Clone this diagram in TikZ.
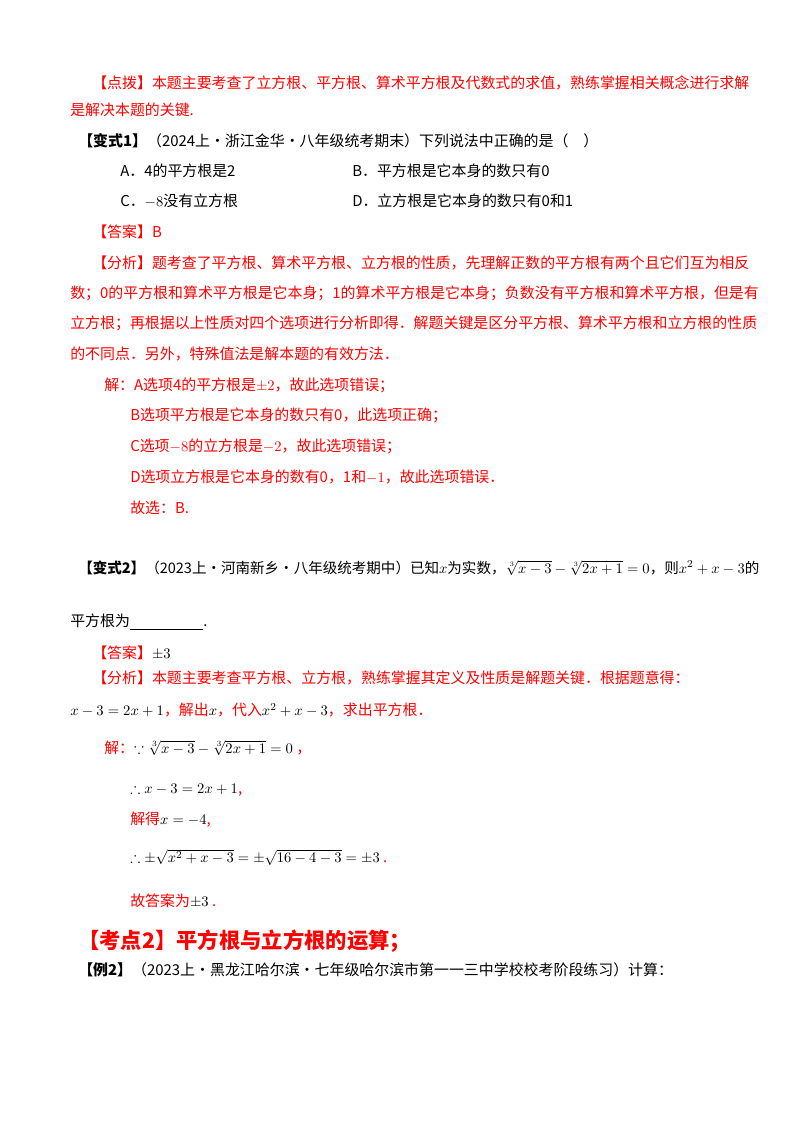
\documentclass[tikz,border=0pt]{standalone}
\usepackage{amsmath,amssymb}
\usepackage{fontspec}
\setmainfont{Noto Sans CJK SC}
\definecolor{rd}{RGB}{255,0,0}
\begin{document}
\begin{tikzpicture}[x=0.75pt,y=-0.75pt,
  t/.style={anchor=west,inner sep=0pt,font=\fontsize{11.2}{13}\selectfont},
  r/.style={t,text=rd}]
\useasboundingbox (0,0) rectangle (800,1132);
\node[r] (l1) at (92,83) {【点拨】本题主要考查了立方根、平方根、算术平方根及代数式的求值，熟练掌握相关概念进行求解};
\node[r] (l2) at (70,110) {是解决本题的关键.};
\node[t] (l3) at (78,141) {\textbf{【变式1】}（2024上·浙江金华·八年级统考期末）下列说法中正确的是（\quad）};
\node[t] (a) at (120,171) {A．4的平方根是2};
\node[t] (b) at (352,171) {B．平方根是它本身的数只有0};
\node[t] (c) at (120,201) {C．$-8$没有立方根};
\node[t] (d) at (352,201) {D．立方根是它本身的数只有0和1};
\node[r] (l4) at (92,232) {【答案】B};
\node[r] (l5) at (92,263) {【分析】题考查了平方根、算术平方根、立方根的性质，先理解正数的平方根有两个且它们互为相反};
\node[r] (l6) at (70,293) {数；0的平方根和算术平方根是它本身；1的算术平方根是它本身；负数没有平方根和算术平方根，但是有};
\node[r] (l7) at (70,323) {立方根；再根据以上性质对四个选项进行分析即得．解题关键是区分平方根、算术平方根和立方根的性质};
\node[r] (l8) at (70,354) {的不同点．另外，特殊值法是解本题的有效方法．};
\node[r] (l9) at (104,385) {解：A选项4的平方根是$\pm2$，故此选项错误；};
\node[r] (l10) at (130,415) {B选项平方根是它本身的数只有0，此选项正确；};
\node[r] (l11) at (130,446) {C选项$-8$的立方根是$-2$，故此选项错误；};
\node[r] (l12) at (130,477) {D选项立方根是它本身的数有0，1和$-1$，故此选项错误．};
\node[r] (l13) at (130,508) {故选：B.};
\node[t,font=\fontsize{10.9}{13}\selectfont] (l14) at (78,568) {\textbf{【变式2】}（2023上·河南新乡·八年级统考期中）已知$x$为实数，$\sqrt[3]{x-3}-\sqrt[3]{2x+1}=0$，则$x^2+x-3$的};
\node[t] (l15) at (70,622) {平方根为\underline{\hspace{55pt}}.};
\node[r] (l16) at (92,653) {【答案】{\color{black}$\pm3$}};
\node[r] (l17) at (92,678) {【分析】本题主要考查平方根、立方根，熟练掌握其定义及性质是解题关键．根据题意得：};
\node[r] (l18) at (70,710) {{\color{black}$x-3=2x+1$}，解出{\color{black}$x$}，代入{\color{black}$x^2+x-3$}，求出平方根．};
\node[r] (l19) at (104,748) {解：{\color{black}$\because\sqrt[3]{x-3}-\sqrt[3]{2x+1}=0$}\ ，};
\node[r] (l20) at (130,790) {{\color{black}$\therefore x-3=2x+1$},};
\node[r] (l21) at (130,820) {解得{\color{black}$x=-4$},};
\node[r] (l22) at (130,857) {{\color{black}$\therefore\pm\sqrt{x^2+x-3}=\pm\sqrt{16-4-3}=\pm3$}\ .};
\node[r] (l23) at (130,901) {故答案为{\color{black}$\pm3$}\ .};
\node[anchor=west,inner sep=0pt,text=rd,font=\fontsize{16}{19}\selectfont\bfseries] (h) at (78,941) {【考点2】平方根与立方根的运算；};
\node[t] (l24) at (78,970) {\textbf{【例2】}（2023上·黑龙江哈尔滨·七年级哈尔滨市第一一三中学校校考阶段练习）计算：};
\end{tikzpicture}
\end{document}
